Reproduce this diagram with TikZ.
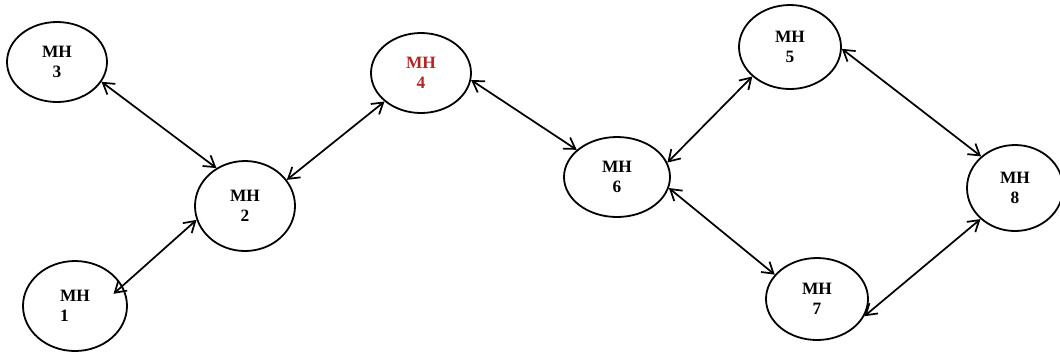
\documentclass[tikz,border=0pt]{standalone}
\usepackage{fontspec}
\setmainfont{Liberation Serif}
\usetikzlibrary{shapes.geometric,arrows.meta}
\definecolor{mhred}{RGB}{178,38,38}
\tikzset{
  mh/.style={draw, ellipse, line width=1.35pt, inner sep=0pt, align=center,
    font=\fontsize{13}{15}\selectfont\bfseries},
  link/.style={line width=1.3pt, {Straight Barb[length=8pt,width=10pt]}-{Straight Barb[length=8pt,width=10pt]}}
}
\begin{document}
\begin{tikzpicture}[x=0.75pt,y=-0.75pt]
\useasboundingbox (0,0) rectangle (1060,355);
\node[mh, minimum width=75pt, minimum height=60pt] (n3) at (57,62) {MH\\3};
\node[mh, minimum width=75pt, minimum height=67.5pt] (n2) at (245,206) {MH\\2};
\node[mh, minimum width=78pt, minimum height=67.5pt, align=left] (n1) at (75,306) {MH\\1};
\node[mh, minimum width=75pt, minimum height=60pt, text=mhred] (n4) at (421,73) {MH\\4};
\node[mh, minimum width=79.5pt, minimum height=60pt] (n6) at (617,177) {MH\\6};
\node[mh, minimum width=76.5pt, minimum height=63pt] (n5) at (790,47) {MH\\5};
\node[mh, minimum width=76.5pt, minimum height=61.5pt] (n7) at (817,299) {MH\\7};
\node[mh, minimum width=72pt, minimum height=64.5pt] (n8) at (1015,188) {MH\\8};
\draw[link] (n3.-24) -- (n2.127);
\draw[link, shorten <=-9pt] (n1.23) -- (n2.196);
\draw[link] (n2.32) -- (n4.218);
\draw[link] (n4.-8) -- (n6.146);
\draw[link] (n6.16) -- (n5.218);
\draw[link] (n6.-12) -- (n7.150);
\draw[link] (n5.-2) -- (n8.137);
\draw[link] (n7.-20) -- (n8.222);
\end{tikzpicture}
\end{document}
